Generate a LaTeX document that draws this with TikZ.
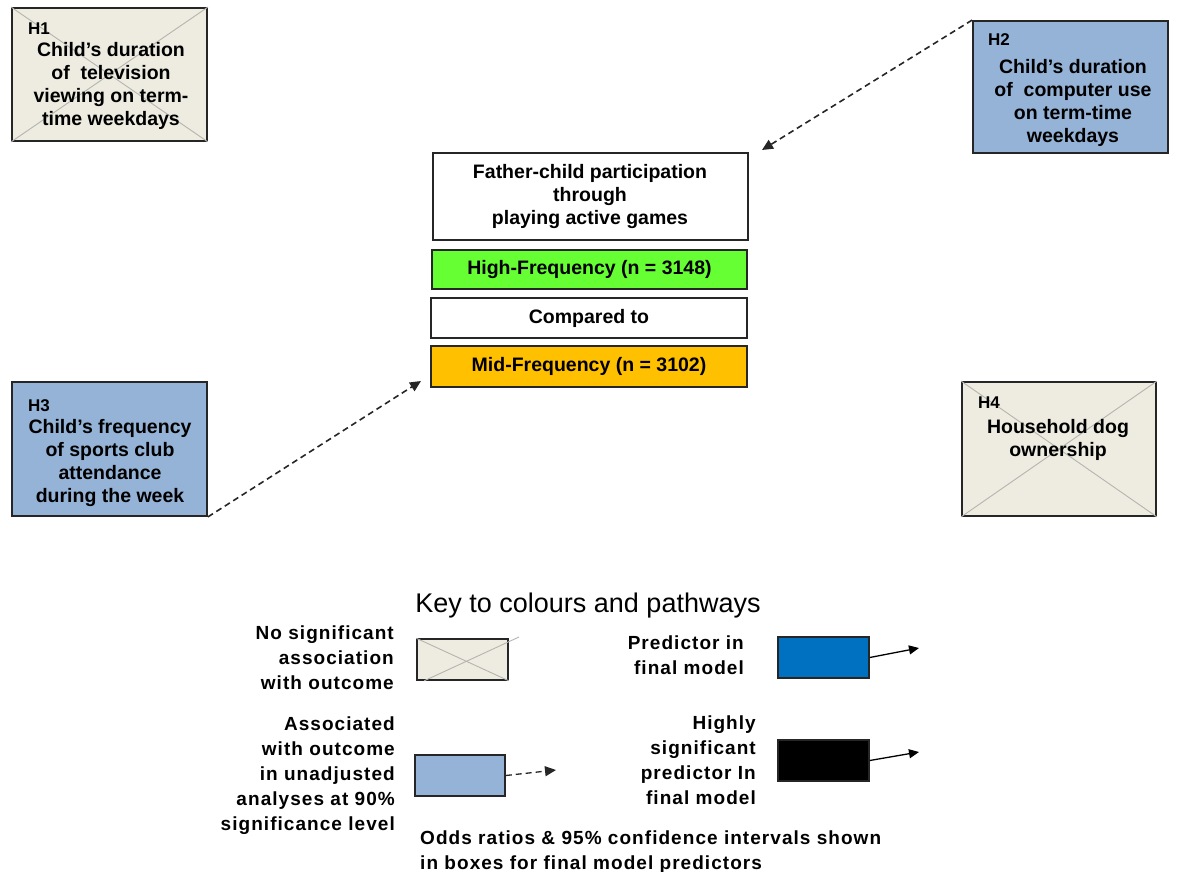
\documentclass[tikz,border=0pt]{standalone}
\usepackage{fontspec}
\setmainfont{Liberation Sans}
\newfontfamily\keyfont{Liberation Sans}[LetterSpace=5.5]
\usetikzlibrary{arrows.meta}
\definecolor{beige}{HTML}{EEECE1}
\definecolor{lblue}{HTML}{95B3D7}
\definecolor{hgreen}{HTML}{66FF33}
\definecolor{amber}{HTML}{FFC000}
\definecolor{pblue}{HTML}{0070C0}
\definecolor{xgray}{HTML}{B4B4B0}
\definecolor{edge}{HTML}{262626}
\begin{document}
\begin{tikzpicture}[x=1pt,y=-1pt,
  txt/.style={font=\fontsize{19.5}{23}\selectfont\bfseries, align=center, inner sep=0pt, text=black},
  ktxt/.style={font=\keyfont\fontsize{19}{25}\selectfont\bfseries, align=right, inner sep=0pt, text=black},
  hlab/.style={font=\fontsize{17}{20}\selectfont\bfseries, inner sep=0pt, anchor=north west, text=black},
  box/.style={draw=edge, line width=1.8pt, inner sep=0pt},
  xline/.style={draw=xgray, line width=0.9pt},
  dasharrow/.style={draw=edge, line width=1.6pt, dash pattern=on 6pt off 4pt,
    -{Triangle[length=11pt,width=10pt]}},
  solidarrow/.style={draw=black, line width=1.3pt, -{Triangle[length=10pt,width=9pt]}}]
\useasboundingbox (0,0) rectangle (1179,872);

% hypothesis boxes
\node[box, fill=beige, minimum width=195pt, minimum height=133pt] (h1) at (109.5,74.5) {};
\draw[xline] (h1.north west) -- (h1.south east) (h1.north east) -- (h1.south west);
\node[hlab] at (28,23) {H1};
\node[txt, anchor=north] at (111,42) {Child’s duration\\of\ \ television\\viewing on term-\\time weekdays};

\node[box, fill=lblue, minimum width=195pt, minimum height=132pt] (h2) at (1070.5,87) {};
\node[hlab] at (988,33) {H2};
\node[txt, anchor=north] at (1073,59) {Child’s duration\\of\ \ computer use\\on term-time\\weekdays};

\node[box, fill=lblue, minimum width=195pt, minimum height=134pt] (h3) at (109.5,449) {};
\node[hlab] at (28,399) {H3};
\node[txt, anchor=north] at (110,419) {Child’s frequency\\of sports club\\attendance\\during the week};

\node[box, fill=beige, minimum width=194pt, minimum height=134pt] (h4) at (1059,449) {};
\draw[xline] (h4.north west) -- (h4.south east) (h4.north east) -- (h4.south west);
\node[hlab] at (978,397) {H4};
\node[txt, anchor=north] at (1058,419) {Household dog\\ownership};

% outcome boxes
\node[box, fill=white, minimum width=315pt, minimum height=87pt] (top) at (590.5,196.5) {};
\node[txt, anchor=north] at (590,164) {Father-child participation\\through\\playing active games};
\node[box, fill=hgreen, minimum width=315pt, minimum height=39pt, txt] (high) at (589.5,269.5) {High-Frequency (n = 3148)};
\node[box, fill=white, minimum width=316pt, minimum height=40pt, txt] (comp) at (589,318) {Compared to};
\node[box, fill=amber, minimum width=316pt, minimum height=41pt, txt] (mid) at (589,366.5) {Mid-Frequency (n = 3102)};

% pathways
\coordinate (e2) at (762,150);
\coordinate (e3) at (421,381);
\draw[dasharrow] (h2.north west) -- (e2);
\draw[dasharrow] (h3.south east) -- (e3);

% key
\node[font=\fontsize{27}{30}\selectfont, inner sep=0pt, text=black] (ktitle) at (588,606) {Key to colours and pathways};

\node[ktxt, anchor=north east] (k1t) at (394,626) {No significant\\association\\with outcome};
\node[box, line width=1.6pt, fill=beige, minimum width=91pt, minimum height=41pt] (k1) at (462.5,659.5) {};
\draw[xline] (k1.north west) -- (k1.south east);
\coordinate (k1x) at (519,637);
\draw[xline] ([xshift=8pt]k1.south west) -- (k1x);

\node[ktxt, anchor=north east] (k2t) at (395,717) {Associated\\with outcome\\in unadjusted\\analyses at 90\%\\significance level};
\node[box, line width=1.6pt, fill=lblue, minimum width=90pt, minimum height=41pt] (k2) at (460,775.5) {};
\coordinate (k2e) at (556,770);
\draw[dasharrow, line width=1.3pt] (k2.east) -- (k2e);

\node[ktxt, anchor=north east] (k3t) at (744,636) {Predictor in\\final model};
\node[box, line width=1.6pt, fill=pblue, minimum width=91pt, minimum height=41pt] (k3) at (823.5,657.5) {};
\coordinate (k3e) at (919,648);
\draw[solidarrow] (k3.east) -- (k3e);

\node[ktxt, anchor=north east] (k4t) at (756,716) {Highly\\significant\\predictor In\\final model};
\node[box, line width=1.6pt, fill=black, minimum width=91pt, minimum height=41pt] (k4) at (823.5,760.5) {};
\coordinate (k4e) at (919,752);
\draw[solidarrow] (k4.east) -- (k4e);

\node[ktxt, align=left, anchor=north west] (note) at (420,831) {Odds ratios \& 95\% confidence intervals shown\\in boxes for final model predictors};
\end{tikzpicture}
\end{document}
